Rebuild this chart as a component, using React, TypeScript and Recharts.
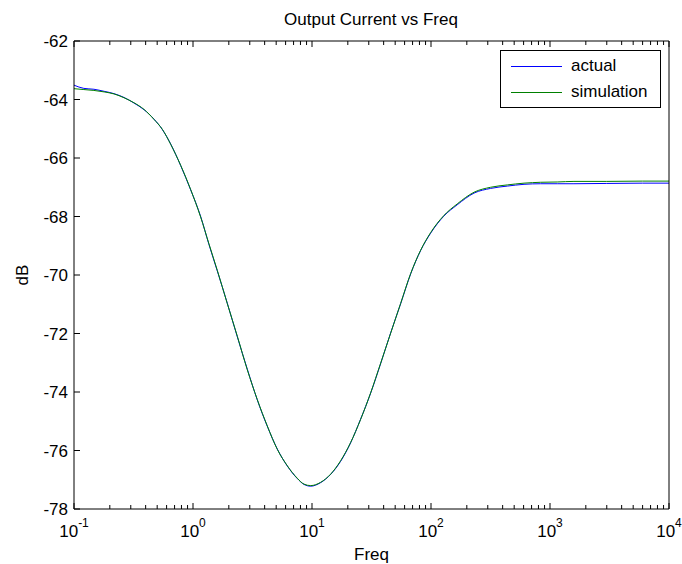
import { LineChart, Line, XAxis, YAxis, Legend } from 'recharts';

// frequency points (Hz)
const freq = [
  0.1, 0.121, 0.147, 0.179, 0.217, 0.263, 0.319, 0.388, 0.47, 0.553,
  0.649, 0.788, 0.956, 1.16, 1.36, 1.6, 1.94, 2.36, 2.86, 3.47,
  4.21, 5.11, 6.2, 7.53, 8.57, 9.75, 11.8, 14.4, 17.4, 21.1,
  25.6, 31.1, 37.8, 45.8, 55.6, 67.5, 81.9, 99.3, 128, 166,
  230, 317, 438, 605, 835, 1150, 1590, 3000, 6000, 10000,
];

const actual = [
  -63.51, -63.62, -63.65, -63.72, -63.8, -63.93, -64.12, -64.35, -64.67, -65.03,
  -65.52, -66.26, -67.09, -68.0, -68.95, -69.86, -70.96, -72.12, -73.22, -74.27,
  -75.17, -75.95, -76.53, -76.96, -77.16, -77.22, -77.1, -76.81, -76.37, -75.74,
  -74.93, -74.04, -73.02, -71.98, -70.98, -69.96, -69.16, -68.57, -67.99, -67.6,
  -67.2, -67.04, -66.96, -66.9, -66.88, -66.88, -66.88, -66.87, -66.86, -66.86,
];

const simulation = [
  -63.63, -63.66, -63.69, -63.74, -63.81, -63.94, -64.11, -64.34, -64.68, -65.02,
  -65.53, -66.25, -67.08, -68.02, -68.93, -69.84, -70.97, -72.1, -73.24, -74.26,
  -75.16, -75.96, -76.52, -76.95, -77.15, -77.2, -77.09, -76.8, -76.35, -75.73,
  -74.94, -74.03, -73.01, -71.99, -70.97, -69.95, -69.15, -68.55, -67.97, -67.57,
  -67.17, -67.0, -66.92, -66.86, -66.83, -66.82, -66.8, -66.8, -66.79, -66.79,
];

const xMajorTicks = [0.1, 1, 10, 100, 1000, 10000];
const xTickExponents = ['-1', '0', '1', '2', '3', '4'];
const minorSteps = [2, 3, 4, 5, 6, 7, 8, 9];
const yTicks = [-78, -76, -74, -72, -70, -68, -66, -64, -62];

const xAllTicks = [
  ...xMajorTicks,
  ...xMajorTicks.slice(0, -1).flatMap((d) => minorSteps.map((m) => +(d * m).toPrecision(3))),
].sort((a, b) => a - b);

const data = freq.map((f, i) => ({ f, actual: actual[i], simulation: simulation[i] }));

const FONT = '"Liberation Sans", Arial, sans-serif';

function tickLen(v: number) {
  return xMajorTicks.includes(v) ? 6 : 4;
}

function BottomTick({ x, y, payload }: any) {
  const i = xMajorTicks.indexOf(payload.value);
  return (
    <g>
      <line x1={x} y1={y} x2={x} y2={y - tickLen(payload.value)} stroke="#000" />
      {i >= 0 && (
        <text x={x} y={y + 28} textAnchor="middle" fontSize={17} fontFamily={FONT} fill="#000">
          10
          <tspan dy={-10} fontSize={12}>{xTickExponents[i]}</tspan>
        </text>
      )}
    </g>
  );
}

function TopTick({ x, y, payload }: any) {
  return <line x1={x} y1={y} x2={x} y2={y + tickLen(payload.value)} stroke="#000" />;
}

function LeftTick({ x, y, payload }: any) {
  return (
    <g>
      <line x1={x} y1={y} x2={x + 6} y2={y} stroke="#000" />
      <text x={x - 6} y={y} dy="0.36em" textAnchor="end" fontSize={17} fontFamily={FONT} fill="#000">
        {payload.value}
      </text>
    </g>
  );
}

function RightTick({ x, y }: any) {
  return <line x1={x} y1={y} x2={x - 6} y2={y} stroke="#000" />;
}

function LegendBox({ payload }: any) {
  return (
    <div
      style={{
        position: 'relative',
        width: 161,
        height: 58,
        boxSizing: 'border-box',
        border: '1px solid #000',
        background: '#fff',
        fontFamily: FONT,
        fontSize: 17,
        color: '#000',
      }}
    >
      {(payload || []).map((item: any, i: number) => (
        <div
          key={item.value}
          style={{ position: 'absolute', left: 10, top: 2 + i * 26, height: 26, display: 'flex', alignItems: 'center' }}
        >
          <span style={{ display: 'inline-block', width: 51, height: 1, background: item.color }} />
          <span style={{ marginLeft: 9, lineHeight: '26px' }}>{item.value}</span>
        </div>
      ))}
    </div>
  );
}

// axes need a non-zero size to render, so the margins are 1px smaller than the plot box
export default function App() {
  return (
    <div style={{ position: 'absolute', left: 0, top: 0, width: 682, height: 564, background: '#fff' }}>
      <LineChart width={682} height={564} data={data} margin={{ top: 40, right: 12, bottom: 54, left: 73 }}>
        <XAxis
          dataKey="f"
          type="number"
          scale="log"
          domain={[0.1, 10000]}
          ticks={xAllTicks}
          interval={0}
          height={1}
          tickSize={0}
          tickMargin={0}
          tickLine={false}
          axisLine={{ stroke: '#000' }}
          tick={(p: any) => <BottomTick {...p} />}
        />
        <XAxis
          xAxisId="top"
          orientation="top"
          dataKey="f"
          type="number"
          scale="log"
          domain={[0.1, 10000]}
          ticks={xAllTicks}
          interval={0}
          height={1}
          tickSize={0}
          tickMargin={0}
          tickLine={false}
          axisLine={{ stroke: '#000' }}
          tick={(p: any) => <TopTick {...p} />}
        />
        <YAxis
          type="number"
          domain={[-78, -62]}
          ticks={yTicks}
          interval={0}
          width={1}
          tickSize={0}
          tickMargin={0}
          tickLine={false}
          axisLine={{ stroke: '#000' }}
          tick={(p: any) => <LeftTick {...p} />}
        />
        <YAxis
          yAxisId="right"
          orientation="right"
          type="number"
          domain={[-78, -62]}
          ticks={yTicks}
          interval={0}
          width={1}
          tickSize={0}
          tickMargin={0}
          tickLine={false}
          axisLine={{ stroke: '#000' }}
          tick={(p: any) => <RightTick {...p} />}
        />
        <Legend
          layout="vertical"
          align="center"
          verticalAlign="middle"
          wrapperStyle={{ left: 500, top: 50, width: 161, height: 58 }}
          content={(p: any) => <LegendBox payload={p.payload} />}
        />
        <Line
          name="actual"
          dataKey="actual"
          stroke="#0000ff"
          strokeWidth={1}
          dot={false}
          activeDot={false}
          type="monotone"
          isAnimationActive={false}
        />
        <Line
          name="simulation"
          dataKey="simulation"
          stroke="#008000"
          strokeWidth={1}
          dot={false}
          activeDot={false}
          type="monotone"
          isAnimationActive={false}
        />
      </LineChart>
      <svg
        width={682}
        height={564}
        style={{ position: 'absolute', left: 0, top: 0, pointerEvents: 'none' }}
        fontFamily={FONT}
        fill="#000"
      >
        <text x={371} y={25} textAnchor="middle" fontSize={17}>
          Output Current vs Freq
        </text>
        <text x={371.5} y={560} textAnchor="middle" fontSize={17}>
          Freq
        </text>
        <text x={28} y={275} textAnchor="middle" fontSize={17} transform="rotate(-90 28 275)">
          dB
        </text>
      </svg>
    </div>
  );
}
